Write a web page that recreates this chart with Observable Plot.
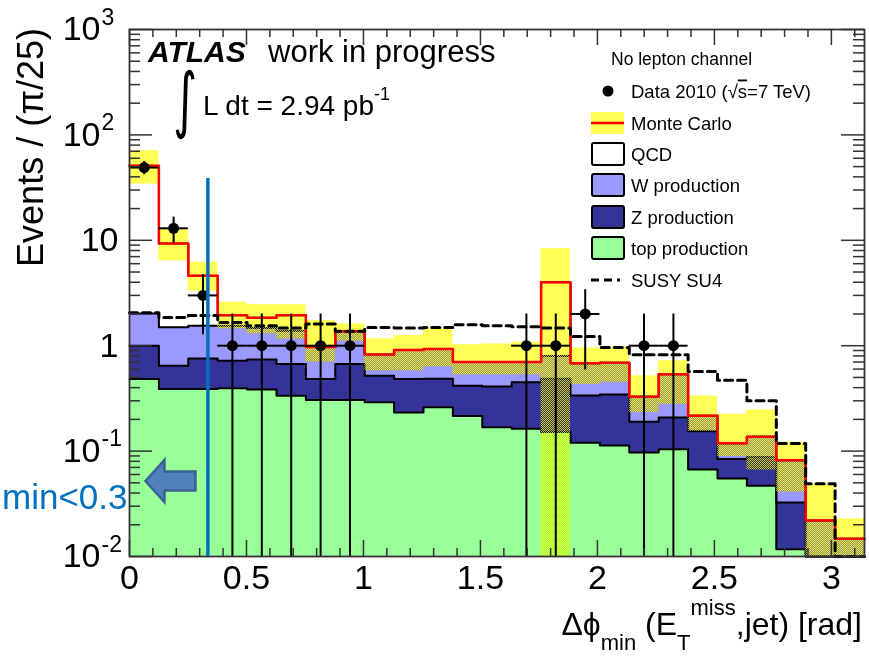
<!DOCTYPE html>
<html>
<head>
<meta charset="utf-8">
<script src="https://cdn.jsdelivr.net/npm/d3@7"></script>
<script src="https://cdn.jsdelivr.net/npm/@observablehq/plot@0.6"></script>
<style>
  body { margin: 0; background: #fff; }
  #chart svg { display: block; }
</style>
</head>
<body>
<div id="chart"></div>
<script>
// Δφ_min(E_T^miss, jet) in the no-lepton channel: 25 bins of width π/25.
const nBins = 25;
const binWidth = Math.PI / nBins;

// Monte Carlo expectation per bin, by process (events / bin)
const topProd = [0.483, 0.388, 0.388, 0.395, 0.385, 0.335, 0.306, 0.306, 0.290, 0.233, 0.260, 0.215, 0.168,
                 0.163, 0.152, 0.120, 0.113, 0.097, 0.104, 0.067, 0.055, 0.047, 0.0117, 0, 0];
const zProd   = [0.517, 0.258, 0.367, 0.325, 0.355, 0.335, 0.177, 0.364, 0.230, 0.250, 0.225, 0.203, 0.242,
                 0.287, 0.333, 0.217, 0.231, 0.093, 0.104, 0.087, 0.029, 0.041, 0.0209, 0, 0];
const wProd   = [1.02, 0.854, 0.795, 0.83, 0.73, 0.72, 0.487, 0.70, 0.305, 0.427, 0.445, 0.282, 0.29,
                 0.25, 0.315, 0.343, 0.346, 0.137, 0.327, 0.063, 0.035, 0.049, 0.0494, 0.022, 0.0147];
const qcd     = [49.0, 7.85, 3.05, 0.40, 0.37, 0.56, 0, 0, 0, 0, 0, 0, 0,
                 0, 3.2, 0, 0, 0, 0, 0, 0, 0, 0, 0, 0];

// Monte Carlo uncertainty band (lower / upper edge of the total)
const mcBandLo = [34.3, 6.4, 3.3, 1.45, 1.30, 1.16, 0.70, 1.10, 0.58, 0.58, 0.63, 0.53, 0.53,
                  0.53, 0, 0.43, 0.45, 0.233, 0.278, 0.154, 0.089, 0.066, 0.041, 0, 0];
const mcBandHi = [70.8, 12.8, 6.2, 2.58, 2.45, 2.45, 1.73, 1.61, 1.16, 1.25, 1.48, 1.02, 1.04,
                  1.08, 8.3, 0.95, 0.96, 0.52, 0.72, 0.333, 0.224, 0.246, 0.121, 0.049, 0.0227];

// SUSY benchmark point SU4
const susySU4 = [2.05, 1.85, 1.93, 1.66, 1.55, 1.47, 1.61, 1.37, 1.49, 1.47, 1.49, 1.58, 1.55,
                 1.51, 1.47, 1.22, 0.96, 0.82, 0.82, 0.57, 0.47, 0.30, 0.118, 0.049, 0];

// Data 2010 (null = empty bin) with error bar ends
const dataCounts = [49, 13, 3, 1, 1, 1, 1, 1, null, null, null, null, null,
                    1, 1, 2, null, 1, 1, null, null, null, null, null, null];
const dataErrLo  = [42, 9.4, 1.27, 0, 0, 0, 0, 0, null, null, null, null, null,
                    0, 0, 0.59, null, 0, 0, null, null, null, null, null, null];
const dataErrHi  = [56, 16.6, 4.7, 2, 2, 2, 2, 2, null, null, null, null, null,
                    2, 2, 3.4, null, 2, 2, null, null, null, null, null, null];

// axis ticks
const xTicks = [0, 0.5, 1, 1.5, 2, 2.5, 3];
const xTickLabels = ["0", "0.5", "1", "1.5", "2", "2.5", "3"];
const yTicks = [0.01, 0.1, 1, 10, 100, 1000];
const yTickLabels = ["10^-2", "10^-1", "1", "10", "10^2", "10^3"];

// the Δφ_min > 0.3 cut marker
const cutValue = 0.335;
const cutLineTop = 38.5;
const cutArrow = {x: 0.175, y: 0.052};
const cutLabel = {text: "min<0.3", y: 0.036};

const yFloor = 0.01, yCeil = 1000;
const W = 869, H = 656;
const margin = {top: 29, right: 5, bottom: 100, left: 129};
const frameW = W - margin.left - margin.right;
const frameH = H - margin.top - margin.bottom;
const low = v => Math.max(v, 1e-4); // empty bins sit on the axis floor

const bins = d3.range(nBins).map(i => {
  const t = topProd[i];
  const z = t + zProd[i];
  const w = z + wProd[i];
  const q = w + qcd[i];
  return {
    x1: i * binWidth, x2: (i + 1) * binWidth, xc: (i + 0.5) * binWidth,
    top: t, z, w, total: q,
    bandLo: mcBandLo[i], bandHi: mcBandHi[i], susy: susySU4[i],
    data: dataCounts[i], dLo: dataErrLo[i], dHi: dataErrHi[i]
  };
});

// points for step-after curves: every left edge plus the closing right edge
const steps = key => bins.map(b => ({x: b.x1, y: low(b[key])}))
  .concat([{x: Math.PI, y: low(bins[nBins - 1][key])}]);
const bandSteps = bins.map(b => ({x: b.x1, lo: low(b.bandLo), hi: b.bandHi}))
  .concat([{x: Math.PI, lo: low(bins[nBins - 1].bandLo), hi: bins[nBins - 1].bandHi}]);
const dataPts = bins.filter(b => b.data != null);

const xMinor = d3.range(0, 3.15, 0.1).filter(v => Math.abs(v * 2 - Math.round(v * 2)) > 1e-6);
const yMinor = [];
for (let e = -2; e <= 2; ++e) for (let m = 2; m <= 9; ++m) yMinor.push(m * Math.pow(10, e));

// y tick labels split into mantissa and exponent
const yLab = yTicks.map((v, i) => {
  const [base, exp] = yTickLabels[i].split("^");
  return {v, base, exp: exp || ""};
});
const yLabPow = yLab.filter(d => d.exp);
const yLabPlain = yLab.filter(d => !d.exp);

const leftArrow = {
  draw(ctx) {
    ctx.moveTo(-25, 0);
    ctx.lineTo(-6, -21);
    ctx.lineTo(-6, -9.5);
    ctx.lineTo(25, -9.5);
    ctx.lineTo(25, 9.5);
    ctx.lineTo(-6, 9.5);
    ctx.lineTo(-6, 21);
    ctx.closePath();
  }
};

const axisColor = "#333";
const bandYellow = "#ffff55";
const fillArea = (key, color) => Plot.areaY(steps(key), {x: "x", y1: yFloor, y2: "y", curve: "step-after", fill: color});
const outline = (key, color, width) => Plot.line(steps(key), {x: "x", y: "y", curve: "step-after", stroke: color, strokeWidth: width});

const chart = Plot.plot({
  width: W, height: H,
  marginTop: margin.top, marginRight: margin.right, marginBottom: margin.bottom, marginLeft: margin.left,
  style: {background: "white", fontFamily: "'Liberation Sans', Arial, sans-serif", overflow: "hidden"},
  x: {domain: [0, Math.PI], axis: null},
  y: {type: "log", domain: [yFloor, yCeil], clamp: true, axis: null},
  marks: [
    // stacked backgrounds
    fillArea("w", "#9999ff"),
    fillArea("z", "#333399"),
    fillArea("top", "#99ff99"),
    outline("total", "#000", 2),
    outline("w", "#000", 2),
    outline("z", "#000", 2),
    outline("top", "#000", 2),
    // Monte Carlo uncertainty band: tinted layer plus dotted yellow layer
    Plot.areaY(bandSteps, {x: "x", y1: "lo", y2: "hi", curve: "step-after", fill: bandYellow, mixBlendMode: "multiply"}),
    Plot.areaY(bandSteps, {x: "x", y1: "lo", y2: "hi", curve: "step-after", fill: "url(#mcDots)", fillOpacity: 0.75}),
    // Monte Carlo total and SUSY SU4
    outline("total", "#ff0000", 2.5),
    Plot.line(steps("susy"), {x: "x", y: "y", curve: "step-after", stroke: "#000", strokeWidth: 3, strokeDasharray: "8,5"}),
    // data
    Plot.ruleX(dataPts, {x: "xc", y1: d => low(d.dLo), y2: "dHi", stroke: "#000", strokeWidth: 2}),
    Plot.ruleY(dataPts, {y: "data", x1: "x1", x2: "x2", stroke: "#000", strokeWidth: 2}),
    Plot.dot(dataPts, {x: "xc", y: "data", r: 5.5, fill: "#000"}),
    // frame and inward ticks
    Plot.frame({stroke: axisColor, strokeWidth: 1.8}),
    Plot.ruleX(xTicks, {x: d => d, insetTop: frameH - 16, stroke: axisColor, strokeWidth: 1.5}),
    Plot.ruleX(xMinor, {x: d => d, insetTop: frameH - 8, stroke: axisColor, strokeWidth: 1.5}),
    Plot.ruleX(xTicks, {x: d => d, insetBottom: frameH - 16, stroke: axisColor, strokeWidth: 1.5}),
    Plot.ruleX(xMinor, {x: d => d, insetBottom: frameH - 8, stroke: axisColor, strokeWidth: 1.5}),
    Plot.ruleY(yTicks, {y: d => d, insetRight: frameW - 23, stroke: axisColor, strokeWidth: 1.5}),
    Plot.ruleY(yMinor, {y: d => d, insetRight: frameW - 11, stroke: axisColor, strokeWidth: 1.5}),
    Plot.ruleY(yTicks, {y: d => d, insetLeft: frameW - 23, stroke: axisColor, strokeWidth: 1.5}),
    Plot.ruleY(yMinor, {y: d => d, insetLeft: frameW - 11, stroke: axisColor, strokeWidth: 1.5}),
    // tick labels
    Plot.text(xTicks, {x: d => d, text: (d, i) => xTickLabels[i], frameAnchor: "bottom", lineAnchor: "top", dy: 8, fontSize: 34, fill: "#000"}),
    Plot.text(yLabPlain, {y: "v", text: "base", frameAnchor: "left", textAnchor: "end", dx: -11, fontSize: 34, fill: "#000"}),
    Plot.text(yLabPow, {y: "v", text: "base", frameAnchor: "left", textAnchor: "end", dx: -29, fontSize: 34, fill: "#000"}),
    Plot.text(yLabPow, {y: "v", text: "exp", frameAnchor: "left", textAnchor: "start", dx: -28, dy: -12, fontSize: 23, fill: "#000"}),
    // cut marker
    Plot.ruleX([cutValue], {x: d => d, y1: yFloor, y2: cutLineTop, stroke: "#0070c0", strokeWidth: 3.5}),
    Plot.dot([cutArrow], {x: "x", y: "y", symbol: leftArrow, r: 1, fill: "#4f81bd", stroke: "#3a6190", strokeWidth: 2.5}),
    Plot.text([cutLabel], {y: "y", text: "text", frameAnchor: "left", textAnchor: "end", dx: -2, fontSize: 35, fill: "#0070c0"})
  ]
});

document.getElementById("chart").appendChild(chart);
const svg = d3.select(chart);

// dotted fill used by the uncertainty band
const pat = svg.insert("defs", ":first-child").append("pattern")
  .attr("id", "mcDots").attr("width", 2).attr("height", 2).attr("patternUnits", "userSpaceOnUse");
pat.append("rect").attr("x", 0).attr("y", 0).attr("width", 1).attr("height", 1).attr("fill", bandYellow);
pat.append("rect").attr("x", 1).attr("y", 1).attr("width", 1).attr("height", 1).attr("fill", bandYellow);

const font = "'Liberation Sans', Arial, sans-serif";
const addText = (x, y, size, str, opts = {}) => {
  const t = svg.append("text").attr("x", x).attr("y", y).attr("font-size", size)
    .attr("font-family", opts.family || font).attr("text-anchor", opts.anchor || "start")
    .attr("fill", opts.fill || "#000").text(str);
  if (opts.weight) t.attr("font-weight", opts.weight);
  if (opts.style) t.attr("font-style", opts.style);
  return t;
};

// axis titles
svg.append("text")
  .attr("transform", "translate(43,28) rotate(-90)")
  .attr("text-anchor", "end").attr("font-size", 36).attr("font-family", font)
  .text("Events / (π/25)");

const xt = svg.append("text").attr("x", 862).attr("y", 635).attr("text-anchor", "end")
  .attr("font-size", 32).attr("font-family", font);
xt.append("tspan").text("Δϕ");
xt.append("tspan").attr("font-size", 22).attr("dy", 15).text("min");
xt.append("tspan").attr("dy", -15).text(" (E");
xt.append("tspan").attr("font-size", 22).attr("dy", 15).text("T");
xt.append("tspan").attr("font-size", 22).attr("dy", -35).text("miss");
xt.append("tspan").attr("dy", 20).text(",jet) [rad]");

// experiment label and luminosity
addText(148, 62, 30, "ATLAS", {weight: "bold", style: "italic"});
addText(268, 62, 31, "work in progress");
svg.append("text").attr("transform", "translate(173,124) scale(0.72,1.12)")
  .attr("font-size", 64).attr("font-family", "'DejaVu Sans', sans-serif")
  .attr("text-anchor", "start").text("∫");
addText(203, 115, 28, "L dt = 2.94 pb");
addText(374, 100, 18, "-1");

// legend
addText(611, 65, 17.5, "No lepton channel");
const rows = [91, 123, 154, 185, 217, 248, 280];
const labels = ["Data 2010 (√s=7 TeV)", "Monte Carlo", "QCD", "W production", "Z production", "top production", "SUSY SU4"];
rows.forEach((cy, i) => {
  if (i === 0) {
    const t = svg.append("text").attr("x", 631).attr("y", cy + 6.5).attr("font-size", 18.5)
      .attr("font-family", font).attr("text-anchor", "start");
    t.append("tspan").text("Data 2010 (√");
    t.append("tspan").style("text-decoration", "overline").text("s");
    t.append("tspan").text("=7 TeV)");
  } else {
    addText(631, cy + 6.5, 18.5, labels[i]);
  }
});
svg.append("circle").attr("cx", 608).attr("cy", rows[0]).attr("r", 5.5).attr("fill", "#000");
svg.append("rect").attr("x", 591).attr("y", rows[1] - 11).attr("width", 33).attr("height", 22).attr("fill", bandYellow);
svg.append("line").attr("x1", 591).attr("x2", 624).attr("y1", rows[1]).attr("y2", rows[1]).attr("stroke", "#ff0000").attr("stroke-width", 2.5);
[["#ffffff", 2], ["#9999ff", 3], ["#333399", 4], ["#99ff99", 5]].forEach(([c, i]) => {
  svg.append("rect").attr("x", 592).attr("y", rows[i] - 11).attr("width", 32).attr("height", 22).attr("rx", 2)
    .attr("fill", c).attr("stroke", "#000").attr("stroke-width", 2);
});
svg.append("line").attr("x1", 591).attr("x2", 620).attr("y1", rows[6]).attr("y2", rows[6])
  .attr("stroke", "#000").attr("stroke-width", 3).attr("stroke-dasharray", "8,5");
</script>
</body>
</html>
